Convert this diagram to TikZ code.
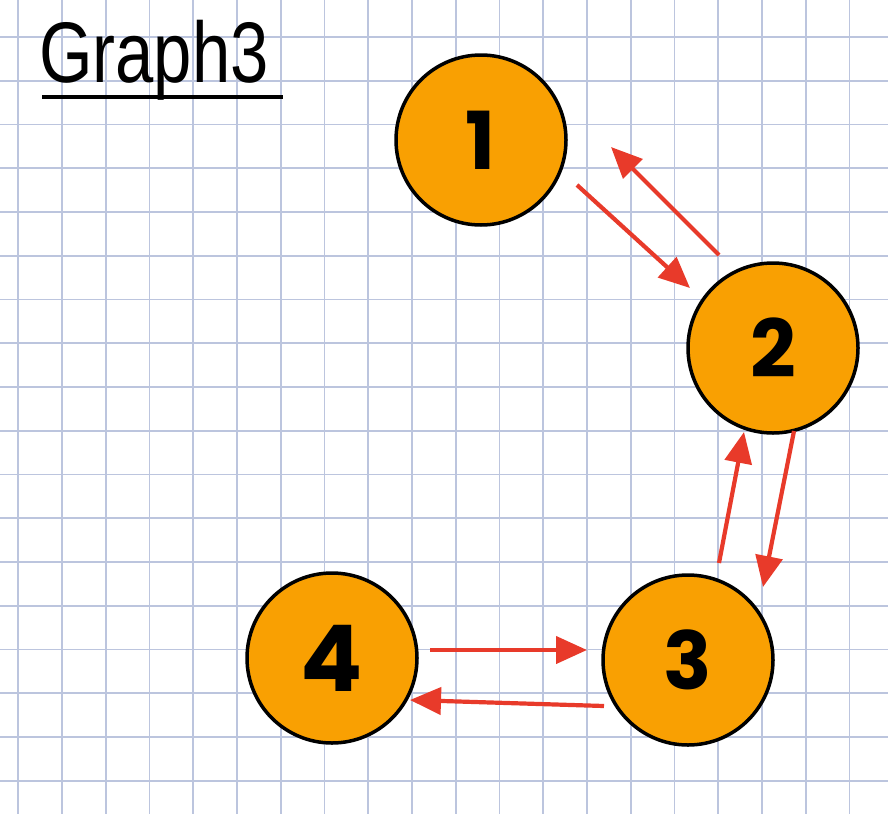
\documentclass[tikz,border=0pt]{standalone}
\usepackage{fontspec}
\setmainfont{Poppins}
\newfontfamily\titlefont{Liberation Sans}
\usetikzlibrary{arrows.meta}
\definecolor{gridc}{RGB}{188,197,222}
\definecolor{nodeorange}{RGB}{249,160,2}
\definecolor{arrred}{RGB}{232,58,42}
\tikzset{
  vertex/.style={circle, draw=black, line width=3.5pt, fill=nodeorange, minimum size=170pt, inner sep=0pt,
    font=\fontsize{80}{80}\selectfont\bfseries},
  arr/.style={draw=arrred, line width=4.2pt, -{Triangle[length=31pt,width=27pt]}},
  gridline/.style={draw=gridc, line width=1.8pt}
}
\begin{document}
\begin{tikzpicture}[x=1pt,y=-1pt]
\useasboundingbox (0,0) rectangle (888,814);
\fill[white] (0,0) rectangle (888,814);
% grid
\foreach \k in {0,...,19} {
  \draw[gridline] ({18.3+43.75*\k},0) -- ({18.3+43.75*\k},814);
}
\foreach \k in {0,...,17} {
  \draw[gridline] (0,{37+43.75*\k}) -- (888,{37+43.75*\k});
}
% title
\node[anchor=base, font=\titlefont\fontsize{86}{86}\selectfont, xscale=0.8] (title) at (154,82) {Graph3};
\coordinate (ulL) at (42,97);
\coordinate (ulR) at (283,97);
\draw[line width=3.2pt] (ulL) -- (ulR);
% nodes
\node[vertex] (n1) at (481,140) {1};
\node[vertex] (n2) at (773,348) {2};
\node[vertex] (n3) at (688,660) {3};
\node[vertex, font=\fontsize{92}{92}\selectfont\bfseries] (n4) at (332,658) {4};
% arrows
\draw[arr] ([shift={(96,45)}]n1.center) -- ([shift={(-83,-60)}]n2.center);
\draw[arr] ([shift={(-54,-93)}]n2.center) -- ([shift={(130,7)}]n1.center);
\draw[arr] ([shift={(21,83)}]n2.center) -- ([shift={(75,-73)}]n3.center);
\draw[arr] ([shift={(31,-97)}]n3.center) -- ([shift={(-29,84)}]n2.center);
\draw[arr] ([shift={(98,-8)}]n4.center) -- ([shift={(-101,-10)}]n3.center);
\draw[arr] ([shift={(-84,46)}]n3.center) -- ([shift={(78,42)}]n4.center);
\end{tikzpicture}
\end{document}
